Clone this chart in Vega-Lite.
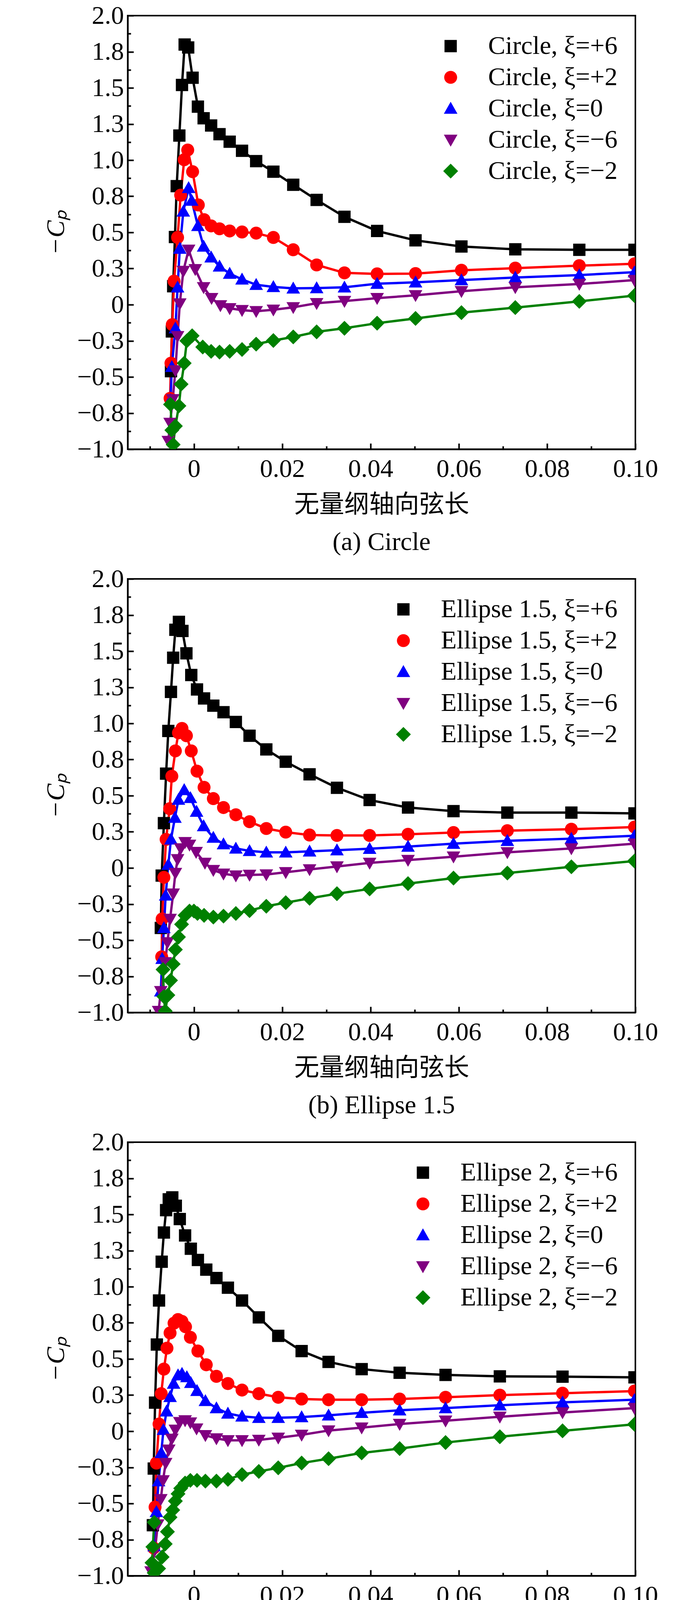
{
  "$schema": "https://vega.github.io/schema/vega-lite/v6.json",
  "background": "white",
  "padding": {"left": 108, "top": 5, "right": 20, "bottom": 10},
  "resolve": {
    "scale": {"color": "independent", "shape": "independent"},
    "legend": {"color": "independent", "shape": "independent"}
  },
  "config": {
    "font": "Liberation Serif",
    "view": {"stroke": "black", "strokeWidth": 4},
    "concat": {"spacing": 24},
    "axis": {
      "grid": false,
      "domainColor": "black",
      "domainWidth": 4,
      "tickColor": "black",
      "tickWidth": 4,
      "labelFont": "Liberation Serif",
      "labelFontSize": 66,
      "labelColor": "black",
      "labelOverlap": false,
      "labelFlush": false,
      "titleColor": "black",
      "titleFontWeight": "normal"
    },
    "legend": {
      "orient": "top-right",
      "offset": 45,
      "padding": 0,
      "labelFont": "Liberation Serif",
      "labelFontSize": 66,
      "labelColor": "black",
      "labelLimit": 2000,
      "symbolSize": 1100,
      "symbolStrokeWidth": 5,
      "rowPadding": 14,
      "labelOffset": 63
    },
    "title": {"font": "Liberation Serif", "fontSize": 66, "fontWeight": "normal", "color": "black", "orient": "bottom", "offset": 32}
  },
  "data": {"values": [
    {"p":"a","s":"+6","x":-0.0052,"y":-0.46},{"p":"a","s":"+6","x":-0.0050,"y":-0.185},{"p":"a","s":"+6","x":-0.0047,"y":0.128},{"p":"a","s":"+6","x":-0.0043,"y":0.468},{"p":"a","s":"+6","x":-0.0039,"y":0.82},{"p":"a","s":"+6","x":-0.0033,"y":1.17},{"p":"a","s":"+6","x":-0.0027,"y":1.52},{"p":"a","s":"+6","x":-0.0021,"y":1.80},{"p":"a","s":"+6","x":-0.0013,"y":1.78},{"p":"a","s":"+6","x":-0.0003,"y":1.57},{"p":"a","s":"+6","x":0.0009,"y":1.37},{"p":"a","s":"+6","x":0.0022,"y":1.29},{"p":"a","s":"+6","x":0.0039,"y":1.24},{"p":"a","s":"+6","x":0.0058,"y":1.18},{"p":"a","s":"+6","x":0.0081,"y":1.128},{"p":"a","s":"+6","x":0.0109,"y":1.065},{"p":"a","s":"+6","x":0.0141,"y":0.993},{"p":"a","s":"+6","x":0.0180,"y":0.92},{"p":"a","s":"+6","x":0.0225,"y":0.83},{"p":"a","s":"+6","x":0.0278,"y":0.725},{"p":"a","s":"+6","x":0.0341,"y":0.608},{"p":"a","s":"+6","x":0.0415,"y":0.51},{"p":"a","s":"+6","x":0.0502,"y":0.445},{"p":"a","s":"+6","x":0.0606,"y":0.403},{"p":"a","s":"+6","x":0.0728,"y":0.383},{"p":"a","s":"+6","x":0.0873,"y":0.38},{"p":"a","s":"+6","x":0.0998,"y":0.38},
    {"p":"a","s":"+2","x":-0.0054,"y":-0.648},{"p":"a","s":"+2","x":-0.0052,"y":-0.405},{"p":"a","s":"+2","x":-0.0049,"y":-0.138},{"p":"a","s":"+2","x":-0.0045,"y":0.163},{"p":"a","s":"+2","x":-0.0037,"y":0.465},{"p":"a","s":"+2","x":-0.0030,"y":0.758},{"p":"a","s":"+2","x":-0.0022,"y":1.003},{"p":"a","s":"+2","x":-0.0014,"y":1.07},{"p":"a","s":"+2","x":-0.0003,"y":0.92},{"p":"a","s":"+2","x":0.0010,"y":0.69},{"p":"a","s":"+2","x":0.0023,"y":0.588},{"p":"a","s":"+2","x":0.0039,"y":0.545},{"p":"a","s":"+2","x":0.0058,"y":0.525},{"p":"a","s":"+2","x":0.0081,"y":0.51},{"p":"a","s":"+2","x":0.0109,"y":0.503},{"p":"a","s":"+2","x":0.0141,"y":0.495},{"p":"a","s":"+2","x":0.0180,"y":0.465},{"p":"a","s":"+2","x":0.0225,"y":0.38},{"p":"a","s":"+2","x":0.0278,"y":0.275},{"p":"a","s":"+2","x":0.0341,"y":0.22},{"p":"a","s":"+2","x":0.0415,"y":0.213},{"p":"a","s":"+2","x":0.0502,"y":0.215},{"p":"a","s":"+2","x":0.0606,"y":0.238},{"p":"a","s":"+2","x":0.0728,"y":0.253},{"p":"a","s":"+2","x":0.0873,"y":0.27},{"p":"a","s":"+2","x":0.0998,"y":0.283},
    {"p":"a","s":"0","x":-0.0053,"y":-0.66},{"p":"a","s":"0","x":-0.0050,"y":-0.43},{"p":"a","s":"0","x":-0.0042,"y":-0.163},{"p":"a","s":"0","x":-0.0037,"y":0.12},{"p":"a","s":"0","x":-0.0032,"y":0.388},{"p":"a","s":"0","x":-0.0024,"y":0.645},{"p":"a","s":"0","x":-0.0012,"y":0.808},{"p":"a","s":"0","x":-0.0005,"y":0.72},{"p":"a","s":"0","x":0.0009,"y":0.545},{"p":"a","s":"0","x":0.0022,"y":0.403},{"p":"a","s":"0","x":0.0039,"y":0.328},{"p":"a","s":"0","x":0.0058,"y":0.265},{"p":"a","s":"0","x":0.0081,"y":0.215},{"p":"a","s":"0","x":0.0109,"y":0.175},{"p":"a","s":"0","x":0.0141,"y":0.138},{"p":"a","s":"0","x":0.0180,"y":0.123},{"p":"a","s":"0","x":0.0225,"y":0.113},{"p":"a","s":"0","x":0.0278,"y":0.115},{"p":"a","s":"0","x":0.0341,"y":0.12},{"p":"a","s":"0","x":0.0415,"y":0.145},{"p":"a","s":"0","x":0.0502,"y":0.155},{"p":"a","s":"0","x":0.0606,"y":0.17},{"p":"a","s":"0","x":0.0728,"y":0.188},{"p":"a","s":"0","x":0.0873,"y":0.205},{"p":"a","s":"0","x":0.0998,"y":0.225},
    {"p":"a","s":"−6","x":-0.0058,"y":-0.943},{"p":"a","s":"−6","x":-0.0054,"y":-0.818},{"p":"a","s":"−6","x":-0.0048,"y":-0.655},{"p":"a","s":"−6","x":-0.0042,"y":-0.455},{"p":"a","s":"−6","x":-0.0037,"y":-0.218},{"p":"a","s":"−6","x":-0.0032,"y":0.008},{"p":"a","s":"−6","x":-0.0024,"y":0.233},{"p":"a","s":"−6","x":-0.0012,"y":0.38},{"p":"a","s":"−6","x":0.0003,"y":0.245},{"p":"a","s":"−6","x":0.0022,"y":0.12},{"p":"a","s":"−6","x":0.0040,"y":0.045},{"p":"a","s":"−6","x":0.0060,"y":-0.005},{"p":"a","s":"−6","x":0.0081,"y":-0.025},{"p":"a","s":"−6","x":0.0109,"y":-0.038},{"p":"a","s":"−6","x":0.0141,"y":-0.045},{"p":"a","s":"−6","x":0.0180,"y":-0.035},{"p":"a","s":"−6","x":0.0225,"y":-0.018},{"p":"a","s":"−6","x":0.0278,"y":0.01},{"p":"a","s":"−6","x":0.0341,"y":0.025},{"p":"a","s":"−6","x":0.0415,"y":0.045},{"p":"a","s":"−6","x":0.0502,"y":0.065},{"p":"a","s":"−6","x":0.0606,"y":0.093},{"p":"a","s":"−6","x":0.0728,"y":0.12},{"p":"a","s":"−6","x":0.0873,"y":0.143},{"p":"a","s":"−6","x":0.0998,"y":0.17},
    {"p":"a","s":"−2","x":-0.0053,"y":-0.69},{"p":"a","s":"−2","x":-0.0050,"y":-0.868},{"p":"a","s":"−2","x":-0.0047,"y":-0.968},{"p":"a","s":"−2","x":-0.0042,"y":-0.84},{"p":"a","s":"−2","x":-0.0034,"y":-0.70},{"p":"a","s":"−2","x":-0.0029,"y":-0.55},{"p":"a","s":"−2","x":-0.0022,"y":-0.405},{"p":"a","s":"−2","x":-0.0016,"y":-0.25},{"p":"a","s":"−2","x":-0.0004,"y":-0.215},{"p":"a","s":"−2","x":0.0020,"y":-0.293},{"p":"a","s":"−2","x":0.0039,"y":-0.323},{"p":"a","s":"−2","x":0.0058,"y":-0.328},{"p":"a","s":"−2","x":0.0081,"y":-0.323},{"p":"a","s":"−2","x":0.0109,"y":-0.31},{"p":"a","s":"−2","x":0.0141,"y":-0.273},{"p":"a","s":"−2","x":0.0180,"y":-0.248},{"p":"a","s":"−2","x":0.0225,"y":-0.223},{"p":"a","s":"−2","x":0.0278,"y":-0.188},{"p":"a","s":"−2","x":0.0341,"y":-0.163},{"p":"a","s":"−2","x":0.0415,"y":-0.128},{"p":"a","s":"−2","x":0.0502,"y":-0.095},{"p":"a","s":"−2","x":0.0606,"y":-0.055},{"p":"a","s":"−2","x":0.0728,"y":-0.02},{"p":"a","s":"−2","x":0.0873,"y":0.023},{"p":"a","s":"−2","x":0.0998,"y":0.063},

    {"p":"b","s":"+6","x":-0.0075,"y":-0.415},{"p":"b","s":"+6","x":-0.0073,"y":-0.053},{"p":"b","s":"+6","x":-0.0068,"y":0.31},{"p":"b","s":"+6","x":-0.0063,"y":0.653},{"p":"b","s":"+6","x":-0.0058,"y":0.948},{"p":"b","s":"+6","x":-0.0052,"y":1.218},{"p":"b","s":"+6","x":-0.0047,"y":1.455},{"p":"b","s":"+6","x":-0.0042,"y":1.648},{"p":"b","s":"+6","x":-0.0034,"y":1.703},{"p":"b","s":"+6","x":-0.0026,"y":1.64},{"p":"b","s":"+6","x":-0.0017,"y":1.485},{"p":"b","s":"+6","x":-0.0006,"y":1.335},{"p":"b","s":"+6","x":0.0007,"y":1.235},{"p":"b","s":"+6","x":0.0023,"y":1.173},{"p":"b","s":"+6","x":0.0044,"y":1.123},{"p":"b","s":"+6","x":0.0067,"y":1.078},{"p":"b","s":"+6","x":0.0095,"y":1.01},{"p":"b","s":"+6","x":0.0126,"y":0.915},{"p":"b","s":"+6","x":0.0164,"y":0.82},{"p":"b","s":"+6","x":0.0208,"y":0.735},{"p":"b","s":"+6","x":0.0262,"y":0.648},{"p":"b","s":"+6","x":0.0324,"y":0.555},{"p":"b","s":"+6","x":0.0398,"y":0.47},{"p":"b","s":"+6","x":0.0485,"y":0.418},{"p":"b","s":"+6","x":0.0588,"y":0.393},{"p":"b","s":"+6","x":0.0710,"y":0.383},{"p":"b","s":"+6","x":0.0855,"y":0.383},{"p":"b","s":"+6","x":0.0998,"y":0.378},
    {"p":"b","s":"+2","x":-0.0073,"y":-0.615},{"p":"b","s":"+2","x":-0.0072,"y":-0.353},{"p":"b","s":"+2","x":-0.0068,"y":-0.065},{"p":"b","s":"+2","x":-0.0063,"y":0.198},{"p":"b","s":"+2","x":-0.0055,"y":0.41},{"p":"b","s":"+2","x":-0.0050,"y":0.635},{"p":"b","s":"+2","x":-0.0042,"y":0.81},{"p":"b","s":"+2","x":-0.0035,"y":0.935},{"p":"b","s":"+2","x":-0.0027,"y":0.965},{"p":"b","s":"+2","x":-0.0017,"y":0.915},{"p":"b","s":"+2","x":-0.0006,"y":0.81},{"p":"b","s":"+2","x":0.0007,"y":0.67},{"p":"b","s":"+2","x":0.0023,"y":0.558},{"p":"b","s":"+2","x":0.0044,"y":0.48},{"p":"b","s":"+2","x":0.0067,"y":0.418},{"p":"b","s":"+2","x":0.0095,"y":0.368},{"p":"b","s":"+2","x":0.0126,"y":0.32},{"p":"b","s":"+2","x":0.0164,"y":0.273},{"p":"b","s":"+2","x":0.0208,"y":0.248},{"p":"b","s":"+2","x":0.0262,"y":0.228},{"p":"b","s":"+2","x":0.0324,"y":0.225},{"p":"b","s":"+2","x":0.0398,"y":0.225},{"p":"b","s":"+2","x":0.0485,"y":0.233},{"p":"b","s":"+2","x":0.0588,"y":0.245},{"p":"b","s":"+2","x":0.0710,"y":0.258},{"p":"b","s":"+2","x":0.0855,"y":0.268},{"p":"b","s":"+2","x":0.0998,"y":0.283},
    {"p":"b","s":"0","x":-0.0075,"y":-0.853},{"p":"b","s":"0","x":-0.0072,"y":-0.628},{"p":"b","s":"0","x":-0.0068,"y":-0.415},{"p":"b","s":"0","x":-0.0064,"y":-0.19},{"p":"b","s":"0","x":-0.0058,"y":0.023},{"p":"b","s":"0","x":-0.0052,"y":0.198},{"p":"b","s":"0","x":-0.0043,"y":0.348},{"p":"b","s":"0","x":-0.0035,"y":0.473},{"p":"b","s":"0","x":-0.0022,"y":0.54},{"p":"b","s":"0","x":-0.0008,"y":0.485},{"p":"b","s":"0","x":0.0006,"y":0.39},{"p":"b","s":"0","x":0.0022,"y":0.29},{"p":"b","s":"0","x":0.0044,"y":0.21},{"p":"b","s":"0","x":0.0067,"y":0.165},{"p":"b","s":"0","x":0.0095,"y":0.135},{"p":"b","s":"0","x":0.0126,"y":0.118},{"p":"b","s":"0","x":0.0164,"y":0.108},{"p":"b","s":"0","x":0.0208,"y":0.108},{"p":"b","s":"0","x":0.0262,"y":0.115},{"p":"b","s":"0","x":0.0324,"y":0.123},{"p":"b","s":"0","x":0.0398,"y":0.133},{"p":"b","s":"0","x":0.0485,"y":0.148},{"p":"b","s":"0","x":0.0588,"y":0.168},{"p":"b","s":"0","x":0.0710,"y":0.188},{"p":"b","s":"0","x":0.0855,"y":0.203},{"p":"b","s":"0","x":0.0998,"y":0.223},
    {"p":"b","s":"−6","x":-0.0080,"y":-0.99},{"p":"b","s":"−6","x":-0.0075,"y":-0.853},{"p":"b","s":"−6","x":-0.0065,"y":-0.653},{"p":"b","s":"−6","x":-0.0060,"y":-0.515},{"p":"b","s":"−6","x":-0.0054,"y":-0.353},{"p":"b","s":"−6","x":-0.0047,"y":-0.178},{"p":"b","s":"−6","x":-0.0042,"y":-0.035},{"p":"b","s":"−6","x":-0.0037,"y":0.06},{"p":"b","s":"−6","x":-0.0030,"y":0.135},{"p":"b","s":"−6","x":-0.0020,"y":0.178},{"p":"b","s":"−6","x":-0.0010,"y":0.16},{"p":"b","s":"−6","x":0.0005,"y":0.11},{"p":"b","s":"−6","x":0.0025,"y":0.035},{"p":"b","s":"−6","x":0.0044,"y":-0.015},{"p":"b","s":"−6","x":0.0067,"y":-0.04},{"p":"b","s":"−6","x":0.0095,"y":-0.053},{"p":"b","s":"−6","x":0.0126,"y":-0.048},{"p":"b","s":"−6","x":0.0164,"y":-0.045},{"p":"b","s":"−6","x":0.0208,"y":-0.03},{"p":"b","s":"−6","x":0.0262,"y":-0.01},{"p":"b","s":"−6","x":0.0324,"y":0.01},{"p":"b","s":"−6","x":0.0398,"y":0.035},{"p":"b","s":"−6","x":0.0485,"y":0.055},{"p":"b","s":"−6","x":0.0588,"y":0.078},{"p":"b","s":"−6","x":0.0710,"y":0.108},{"p":"b","s":"−6","x":0.0855,"y":0.135},{"p":"b","s":"−6","x":0.0998,"y":0.168},
    {"p":"b","s":"−2","x":-0.0070,"y":-0.703},{"p":"b","s":"−2","x":-0.0068,"y":-0.89},{"p":"b","s":"−2","x":-0.0065,"y":-0.99},{"p":"b","s":"−2","x":-0.0059,"y":-0.88},{"p":"b","s":"−2","x":-0.0053,"y":-0.778},{"p":"b","s":"−2","x":-0.0047,"y":-0.665},{"p":"b","s":"−2","x":-0.0042,"y":-0.565},{"p":"b","s":"−2","x":-0.0035,"y":-0.478},{"p":"b","s":"−2","x":-0.0028,"y":-0.39},{"p":"b","s":"−2","x":-0.0020,"y":-0.328},{"p":"b","s":"−2","x":-0.0010,"y":-0.298},{"p":"b","s":"−2","x":0.0000,"y":-0.298},{"p":"b","s":"−2","x":0.0008,"y":-0.315},{"p":"b","s":"−2","x":0.0023,"y":-0.328},{"p":"b","s":"−2","x":0.0044,"y":-0.34},{"p":"b","s":"−2","x":0.0067,"y":-0.333},{"p":"b","s":"−2","x":0.0095,"y":-0.315},{"p":"b","s":"−2","x":0.0126,"y":-0.295},{"p":"b","s":"−2","x":0.0164,"y":-0.265},{"p":"b","s":"−2","x":0.0208,"y":-0.24},{"p":"b","s":"−2","x":0.0262,"y":-0.21},{"p":"b","s":"−2","x":0.0324,"y":-0.178},{"p":"b","s":"−2","x":0.0398,"y":-0.145},{"p":"b","s":"−2","x":0.0485,"y":-0.108},{"p":"b","s":"−2","x":0.0588,"y":-0.07},{"p":"b","s":"−2","x":0.0710,"y":-0.035},{"p":"b","s":"−2","x":0.0855,"y":0.008},{"p":"b","s":"−2","x":0.0998,"y":0.048},

    {"p":"c","s":"+6","x":-0.0093,"y":-0.65},{"p":"c","s":"+6","x":-0.0091,"y":-0.258},{"p":"c","s":"+6","x":-0.0088,"y":0.198},{"p":"c","s":"+6","x":-0.0084,"y":0.60},{"p":"c","s":"+6","x":-0.0079,"y":0.905},{"p":"c","s":"+6","x":-0.0073,"y":1.173},{"p":"c","s":"+6","x":-0.0068,"y":1.375},{"p":"c","s":"+6","x":-0.0063,"y":1.53},{"p":"c","s":"+6","x":-0.0057,"y":1.605},{"p":"c","s":"+6","x":-0.0049,"y":1.618},{"p":"c","s":"+6","x":-0.0041,"y":1.56},{"p":"c","s":"+6","x":-0.0032,"y":1.468},{"p":"c","s":"+6","x":-0.0020,"y":1.355},{"p":"c","s":"+6","x":-0.0007,"y":1.263},{"p":"c","s":"+6","x":0.0009,"y":1.185},{"p":"c","s":"+6","x":0.0028,"y":1.118},{"p":"c","s":"+6","x":0.0051,"y":1.06},{"p":"c","s":"+6","x":0.0077,"y":0.993},{"p":"c","s":"+6","x":0.0109,"y":0.905},{"p":"c","s":"+6","x":0.0147,"y":0.788},{"p":"c","s":"+6","x":0.0191,"y":0.66},{"p":"c","s":"+6","x":0.0244,"y":0.555},{"p":"c","s":"+6","x":0.0305,"y":0.48},{"p":"c","s":"+6","x":0.0380,"y":0.43},{"p":"c","s":"+6","x":0.0466,"y":0.405},{"p":"c","s":"+6","x":0.0570,"y":0.39},{"p":"c","s":"+6","x":0.0693,"y":0.38},{"p":"c","s":"+6","x":0.0835,"y":0.378},{"p":"c","s":"+6","x":0.0998,"y":0.373},
    {"p":"c","s":"+2","x":-0.0091,"y":-0.808},{"p":"c","s":"+2","x":-0.0088,"y":-0.525},{"p":"c","s":"+2","x":-0.0085,"y":-0.22},{"p":"c","s":"+2","x":-0.0079,"y":0.05},{"p":"c","s":"+2","x":-0.0074,"y":0.26},{"p":"c","s":"+2","x":-0.0068,"y":0.43},{"p":"c","s":"+2","x":-0.0061,"y":0.575},{"p":"c","s":"+2","x":-0.0054,"y":0.68},{"p":"c","s":"+2","x":-0.0045,"y":0.748},{"p":"c","s":"+2","x":-0.0036,"y":0.773},{"p":"c","s":"+2","x":-0.0027,"y":0.76},{"p":"c","s":"+2","x":-0.0019,"y":0.723},{"p":"c","s":"+2","x":-0.0008,"y":0.65},{"p":"c","s":"+2","x":0.0009,"y":0.555},{"p":"c","s":"+2","x":0.0028,"y":0.46},{"p":"c","s":"+2","x":0.0051,"y":0.38},{"p":"c","s":"+2","x":0.0077,"y":0.33},{"p":"c","s":"+2","x":0.0109,"y":0.285},{"p":"c","s":"+2","x":0.0147,"y":0.26},{"p":"c","s":"+2","x":0.0191,"y":0.235},{"p":"c","s":"+2","x":0.0244,"y":0.223},{"p":"c","s":"+2","x":0.0305,"y":0.218},{"p":"c","s":"+2","x":0.0380,"y":0.218},{"p":"c","s":"+2","x":0.0466,"y":0.223},{"p":"c","s":"+2","x":0.0570,"y":0.235},{"p":"c","s":"+2","x":0.0693,"y":0.25},{"p":"c","s":"+2","x":0.0835,"y":0.263},{"p":"c","s":"+2","x":0.0998,"y":0.278},
    {"p":"c","s":"0","x":-0.0090,"y":-0.795},{"p":"c","s":"0","x":-0.0085,"y":-0.558},{"p":"c","s":"0","x":-0.0080,"y":-0.345},{"p":"c","s":"0","x":-0.0074,"y":-0.15},{"p":"c","s":"0","x":-0.0069,"y":0.01},{"p":"c","s":"0","x":-0.0062,"y":0.138},{"p":"c","s":"0","x":-0.0054,"y":0.238},{"p":"c","s":"0","x":-0.0046,"y":0.33},{"p":"c","s":"0","x":-0.0036,"y":0.388},{"p":"c","s":"0","x":-0.0027,"y":0.398},{"p":"c","s":"0","x":-0.0016,"y":0.375},{"p":"c","s":"0","x":-0.0007,"y":0.335},{"p":"c","s":"0","x":0.0007,"y":0.28},{"p":"c","s":"0","x":0.0026,"y":0.21},{"p":"c","s":"0","x":0.0051,"y":0.16},{"p":"c","s":"0","x":0.0077,"y":0.123},{"p":"c","s":"0","x":0.0109,"y":0.103},{"p":"c","s":"0","x":0.0147,"y":0.093},{"p":"c","s":"0","x":0.0191,"y":0.093},{"p":"c","s":"0","x":0.0244,"y":0.098},{"p":"c","s":"0","x":0.0305,"y":0.11},{"p":"c","s":"0","x":0.0380,"y":0.128},{"p":"c","s":"0","x":0.0466,"y":0.145},{"p":"c","s":"0","x":0.0570,"y":0.16},{"p":"c","s":"0","x":0.0693,"y":0.18},{"p":"c","s":"0","x":0.0835,"y":0.20},{"p":"c","s":"0","x":0.0998,"y":0.218},
    {"p":"c","s":"−6","x":-0.0097,"y":-0.97},{"p":"c","s":"−6","x":-0.0088,"y":-0.82},{"p":"c","s":"−6","x":-0.0082,"y":-0.645},{"p":"c","s":"−6","x":-0.0075,"y":-0.47},{"p":"c","s":"−6","x":-0.0070,"y":-0.34},{"p":"c","s":"−6","x":-0.0064,"y":-0.22},{"p":"c","s":"−6","x":-0.0057,"y":-0.128},{"p":"c","s":"−6","x":-0.0050,"y":-0.053},{"p":"c","s":"−6","x":-0.0042,"y":0.01},{"p":"c","s":"−6","x":-0.0032,"y":0.063},{"p":"c","s":"−6","x":-0.0020,"y":0.075},{"p":"c","s":"−6","x":-0.0008,"y":0.06},{"p":"c","s":"−6","x":0.0006,"y":0.018},{"p":"c","s":"−6","x":0.0026,"y":-0.028},{"p":"c","s":"−6","x":0.0051,"y":-0.05},{"p":"c","s":"−6","x":0.0077,"y":-0.063},{"p":"c","s":"−6","x":0.0109,"y":-0.063},{"p":"c","s":"−6","x":0.0147,"y":-0.06},{"p":"c","s":"−6","x":0.0191,"y":-0.045},{"p":"c","s":"−6","x":0.0244,"y":-0.025},{"p":"c","s":"−6","x":0.0305,"y":0.005},{"p":"c","s":"−6","x":0.0380,"y":0.025},{"p":"c","s":"−6","x":0.0466,"y":0.05},{"p":"c","s":"−6","x":0.0570,"y":0.073},{"p":"c","s":"−6","x":0.0693,"y":0.10},{"p":"c","s":"−6","x":0.0835,"y":0.13},{"p":"c","s":"−6","x":0.0998,"y":0.16},
    {"p":"c","s":"−2","x":-0.0090,"y":-0.63},{"p":"c","s":"−2","x":-0.0093,"y":-0.80},{"p":"c","s":"−2","x":-0.0095,"y":-0.91},{"p":"c","s":"−2","x":-0.0090,"y":-0.98},{"p":"c","s":"−2","x":-0.0080,"y":-0.95},{"p":"c","s":"−2","x":-0.0072,"y":-0.87},{"p":"c","s":"−2","x":-0.0065,"y":-0.78},{"p":"c","s":"−2","x":-0.0060,"y":-0.695},{"p":"c","s":"−2","x":-0.0054,"y":-0.595},{"p":"c","s":"−2","x":-0.0048,"y":-0.545},{"p":"c","s":"−2","x":-0.0042,"y":-0.483},{"p":"c","s":"−2","x":-0.0036,"y":-0.433},{"p":"c","s":"−2","x":-0.0030,"y":-0.395},{"p":"c","s":"−2","x":-0.0020,"y":-0.358},{"p":"c","s":"−2","x":-0.0008,"y":-0.34},{"p":"c","s":"−2","x":0.0007,"y":-0.34},{"p":"c","s":"−2","x":0.0026,"y":-0.345},{"p":"c","s":"−2","x":0.0051,"y":-0.345},{"p":"c","s":"−2","x":0.0077,"y":-0.333},{"p":"c","s":"−2","x":0.0109,"y":-0.30},{"p":"c","s":"−2","x":0.0147,"y":-0.278},{"p":"c","s":"−2","x":0.0191,"y":-0.253},{"p":"c","s":"−2","x":0.0244,"y":-0.22},{"p":"c","s":"−2","x":0.0305,"y":-0.19},{"p":"c","s":"−2","x":0.0380,"y":-0.15},{"p":"c","s":"−2","x":0.0466,"y":-0.12},{"p":"c","s":"−2","x":0.0570,"y":-0.078},{"p":"c","s":"−2","x":0.0693,"y":-0.038},{"p":"c","s":"−2","x":0.0835,"y":0.003},{"p":"c","s":"−2","x":0.0998,"y":0.048},

    {"p":"d","s":"+6","x":-0.0124,"y":-0.71},{"p":"d","s":"+6","x":-0.0121,"y":0.018},{"p":"d","s":"+6","x":-0.0115,"y":0.588},{"p":"d","s":"+6","x":-0.0110,"y":0.983},{"p":"d","s":"+6","x":-0.0105,"y":1.245},{"p":"d","s":"+6","x":-0.0100,"y":1.413},{"p":"d","s":"+6","x":-0.0095,"y":1.488},{"p":"d","s":"+6","x":-0.0088,"y":1.493},{"p":"d","s":"+6","x":-0.0082,"y":1.475},{"p":"d","s":"+6","x":-0.0075,"y":1.433},{"p":"d","s":"+6","x":-0.0068,"y":1.368},{"p":"d","s":"+6","x":-0.0059,"y":1.273},{"p":"d","s":"+6","x":-0.0048,"y":1.17},{"p":"d","s":"+6","x":-0.0035,"y":1.068},{"p":"d","s":"+6","x":-0.0019,"y":0.988},{"p":"d","s":"+6","x":0.0000,"y":0.925},{"p":"d","s":"+6","x":0.0022,"y":0.88},{"p":"d","s":"+6","x":0.0048,"y":0.858},{"p":"d","s":"+6","x":0.0079,"y":0.843},{"p":"d","s":"+6","x":0.0116,"y":0.825},{"p":"d","s":"+6","x":0.0160,"y":0.755},{"p":"d","s":"+6","x":0.0213,"y":0.63},{"p":"d","s":"+6","x":0.0275,"y":0.513},{"p":"d","s":"+6","x":0.0347,"y":0.438},{"p":"d","s":"+6","x":0.0434,"y":0.40},{"p":"d","s":"+6","x":0.0537,"y":0.38},{"p":"d","s":"+6","x":0.0658,"y":0.375},{"p":"d","s":"+6","x":0.0803,"y":0.37},{"p":"d","s":"+6","x":0.0998,"y":0.368},
    {"p":"d","s":"+2","x":-0.0122,"y":-0.738},{"p":"d","s":"+2","x":-0.0120,"y":-0.363},{"p":"d","s":"+2","x":-0.0118,"y":-0.038},{"p":"d","s":"+2","x":-0.0112,"y":0.183},{"p":"d","s":"+2","x":-0.0105,"y":0.325},{"p":"d","s":"+2","x":-0.0098,"y":0.438},{"p":"d","s":"+2","x":-0.0090,"y":0.508},{"p":"d","s":"+2","x":-0.0082,"y":0.555},{"p":"d","s":"+2","x":-0.0073,"y":0.575},{"p":"d","s":"+2","x":-0.0064,"y":0.588},{"p":"d","s":"+2","x":-0.0055,"y":0.583},{"p":"d","s":"+2","x":-0.0044,"y":0.568},{"p":"d","s":"+2","x":-0.0033,"y":0.543},{"p":"d","s":"+2","x":-0.0019,"y":0.513},{"p":"d","s":"+2","x":0.0000,"y":0.45},{"p":"d","s":"+2","x":0.0022,"y":0.383},{"p":"d","s":"+2","x":0.0048,"y":0.318},{"p":"d","s":"+2","x":0.0079,"y":0.27},{"p":"d","s":"+2","x":0.0116,"y":0.245},{"p":"d","s":"+2","x":0.0160,"y":0.233},{"p":"d","s":"+2","x":0.0213,"y":0.225},{"p":"d","s":"+2","x":0.0275,"y":0.223},{"p":"d","s":"+2","x":0.0347,"y":0.223},{"p":"d","s":"+2","x":0.0434,"y":0.228},{"p":"d","s":"+2","x":0.0537,"y":0.238},{"p":"d","s":"+2","x":0.0658,"y":0.248},{"p":"d","s":"+2","x":0.0803,"y":0.263},{"p":"d","s":"+2","x":0.0998,"y":0.278},
    {"p":"d","s":"0","x":-0.0120,"y":-0.738},{"p":"d","s":"0","x":-0.0115,"y":-0.458},{"p":"d","s":"0","x":-0.0110,"y":-0.25},{"p":"d","s":"0","x":-0.0103,"y":-0.118},{"p":"d","s":"0","x":-0.0097,"y":-0.013},{"p":"d","s":"0","x":-0.0090,"y":0.075},{"p":"d","s":"0","x":-0.0083,"y":0.143},{"p":"d","s":"0","x":-0.0075,"y":0.193},{"p":"d","s":"0","x":-0.0067,"y":0.23},{"p":"d","s":"0","x":-0.0058,"y":0.255},{"p":"d","s":"0","x":-0.0047,"y":0.268},{"p":"d","s":"0","x":-0.0035,"y":0.263},{"p":"d","s":"0","x":-0.0020,"y":0.248},{"p":"d","s":"0","x":0.0000,"y":0.218},{"p":"d","s":"0","x":0.0022,"y":0.175},{"p":"d","s":"0","x":0.0048,"y":0.133},{"p":"d","s":"0","x":0.0079,"y":0.108},{"p":"d","s":"0","x":0.0116,"y":0.095},{"p":"d","s":"0","x":0.0160,"y":0.09},{"p":"d","s":"0","x":0.0213,"y":0.095},{"p":"d","s":"0","x":0.0275,"y":0.105},{"p":"d","s":"0","x":0.0347,"y":0.125},{"p":"d","s":"0","x":0.0434,"y":0.148},{"p":"d","s":"0","x":0.0537,"y":0.16},{"p":"d","s":"0","x":0.0658,"y":0.178},{"p":"d","s":"0","x":0.0803,"y":0.198},{"p":"d","s":"0","x":0.0998,"y":0.22},
    {"p":"d","s":"−6","x":-0.0127,"y":-0.963},{"p":"d","s":"−6","x":-0.0118,"y":-0.738},{"p":"d","s":"−6","x":-0.0110,"y":-0.575},{"p":"d","s":"−6","x":-0.0105,"y":-0.463},{"p":"d","s":"−6","x":-0.0100,"y":-0.363},{"p":"d","s":"−6","x":-0.0093,"y":-0.258},{"p":"d","s":"−6","x":-0.0086,"y":-0.175},{"p":"d","s":"−6","x":-0.0079,"y":-0.113},{"p":"d","s":"−6","x":-0.0070,"y":-0.063},{"p":"d","s":"−6","x":-0.0060,"y":-0.028},{"p":"d","s":"−6","x":-0.0048,"y":-0.008},{"p":"d","s":"−6","x":-0.0035,"y":-0.003},{"p":"d","s":"−6","x":-0.0020,"y":-0.008},{"p":"d","s":"−6","x":0.0000,"y":-0.028},{"p":"d","s":"−6","x":0.0022,"y":-0.053},{"p":"d","s":"−6","x":0.0048,"y":-0.068},{"p":"d","s":"−6","x":0.0079,"y":-0.075},{"p":"d","s":"−6","x":0.0116,"y":-0.07},{"p":"d","s":"−6","x":0.0160,"y":-0.058},{"p":"d","s":"−6","x":0.0213,"y":-0.038},{"p":"d","s":"−6","x":0.0275,"y":-0.013},{"p":"d","s":"−6","x":0.0347,"y":0.013},{"p":"d","s":"−6","x":0.0434,"y":0.038},{"p":"d","s":"−6","x":0.0537,"y":0.063},{"p":"d","s":"−6","x":0.0658,"y":0.09},{"p":"d","s":"−6","x":0.0803,"y":0.12},{"p":"d","s":"−6","x":0.0998,"y":0.158},
    {"p":"d","s":"−2","x":-0.0120,"y":-0.55},{"p":"d","s":"−2","x":-0.0122,"y":-0.90},{"p":"d","s":"−2","x":-0.0110,"y":-0.963},{"p":"d","s":"−2","x":-0.0100,"y":-0.863},{"p":"d","s":"−2","x":-0.0096,"y":-0.768},{"p":"d","s":"−2","x":-0.0090,"y":-0.663},{"p":"d","s":"−2","x":-0.0083,"y":-0.575},{"p":"d","s":"−2","x":-0.0075,"y":-0.508},{"p":"d","s":"−2","x":-0.0065,"y":-0.45},{"p":"d","s":"−2","x":-0.0053,"y":-0.40},{"p":"d","s":"−2","x":-0.0040,"y":-0.368},{"p":"d","s":"−2","x":-0.0022,"y":-0.345},{"p":"d","s":"−2","x":0.0000,"y":-0.338},{"p":"d","s":"−2","x":0.0022,"y":-0.333},{"p":"d","s":"−2","x":0.0048,"y":-0.325},{"p":"d","s":"−2","x":0.0079,"y":-0.308},{"p":"d","s":"−2","x":0.0116,"y":-0.28},{"p":"d","s":"−2","x":0.0160,"y":-0.25},{"p":"d","s":"−2","x":0.0213,"y":-0.218},{"p":"d","s":"−2","x":0.0275,"y":-0.183},{"p":"d","s":"−2","x":0.0347,"y":-0.15},{"p":"d","s":"−2","x":0.0434,"y":-0.113},{"p":"d","s":"−2","x":0.0537,"y":-0.075},{"p":"d","s":"−2","x":0.0658,"y":-0.038},{"p":"d","s":"−2","x":0.0803,"y":0.008},{"p":"d","s":"−2","x":0.0998,"y":0.05},

    {"p":"e","s":"+6","x":-0.0092,"y":-0.475},{"p":"e","s":"+6","x":-0.0088,"y":0.408},{"p":"e","s":"+6","x":-0.0084,"y":1.075},{"p":"e","s":"+6","x":-0.0080,"y":1.445},{"p":"e","s":"+6","x":-0.0073,"y":1.508},{"p":"e","s":"+6","x":-0.0066,"y":1.445},{"p":"e","s":"+6","x":-0.0060,"y":1.35},{"p":"e","s":"+6","x":-0.0052,"y":1.238},{"p":"e","s":"+6","x":-0.0043,"y":1.168},{"p":"e","s":"+6","x":-0.0034,"y":1.118},{"p":"e","s":"+6","x":-0.0022,"y":1.068},{"p":"e","s":"+6","x":-0.0010,"y":1.018},{"p":"e","s":"+6","x":0.0001,"y":0.97},{"p":"e","s":"+6","x":0.0016,"y":0.918},{"p":"e","s":"+6","x":0.0035,"y":0.868},{"p":"e","s":"+6","x":0.0057,"y":0.818},{"p":"e","s":"+6","x":0.0083,"y":0.763},{"p":"e","s":"+6","x":0.0116,"y":0.718},{"p":"e","s":"+6","x":0.0153,"y":0.675},{"p":"e","s":"+6","x":0.0197,"y":0.63},{"p":"e","s":"+6","x":0.0250,"y":0.588},{"p":"e","s":"+6","x":0.0312,"y":0.543},{"p":"e","s":"+6","x":0.0386,"y":0.488},{"p":"e","s":"+6","x":0.0472,"y":0.443},{"p":"e","s":"+6","x":0.0575,"y":0.408},{"p":"e","s":"+6","x":0.0697,"y":0.393},{"p":"e","s":"+6","x":0.0843,"y":0.388},{"p":"e","s":"+6","x":0.0998,"y":0.383},
    {"p":"e","s":"+2","x":-0.0091,"y":-0.613},{"p":"e","s":"+2","x":-0.0088,"y":-0.15},{"p":"e","s":"+2","x":-0.0081,"y":0.118},{"p":"e","s":"+2","x":-0.0074,"y":0.233},{"p":"e","s":"+2","x":-0.0067,"y":0.275},{"p":"e","s":"+2","x":-0.0059,"y":0.308},{"p":"e","s":"+2","x":-0.0050,"y":0.33},{"p":"e","s":"+2","x":-0.0040,"y":0.345},{"p":"e","s":"+2","x":-0.0028,"y":0.35},{"p":"e","s":"+2","x":-0.0015,"y":0.35},{"p":"e","s":"+2","x":0.0000,"y":0.345},{"p":"e","s":"+2","x":0.0015,"y":0.345},{"p":"e","s":"+2","x":0.0035,"y":0.343},{"p":"e","s":"+2","x":0.0057,"y":0.338},{"p":"e","s":"+2","x":0.0083,"y":0.333},{"p":"e","s":"+2","x":0.0116,"y":0.325},{"p":"e","s":"+2","x":0.0153,"y":0.313},{"p":"e","s":"+2","x":0.0197,"y":0.293},{"p":"e","s":"+2","x":0.0250,"y":0.27},{"p":"e","s":"+2","x":0.0312,"y":0.248},{"p":"e","s":"+2","x":0.0386,"y":0.238},{"p":"e","s":"+2","x":0.0472,"y":0.238},{"p":"e","s":"+2","x":0.0575,"y":0.243},{"p":"e","s":"+2","x":0.0697,"y":0.255},{"p":"e","s":"+2","x":0.0843,"y":0.268},{"p":"e","s":"+2","x":0.0998,"y":0.283},
    {"p":"e","s":"0","x":-0.0088,"y":-0.638},{"p":"e","s":"0","x":-0.0082,"y":-0.35},{"p":"e","s":"0","x":-0.0076,"y":-0.213},{"p":"e","s":"0","x":-0.0070,"y":-0.15},{"p":"e","s":"0","x":-0.0063,"y":-0.088},{"p":"e","s":"0","x":-0.0055,"y":-0.025},{"p":"e","s":"0","x":-0.0047,"y":0.02},{"p":"e","s":"0","x":-0.0037,"y":0.063},{"p":"e","s":"0","x":-0.0025,"y":0.093},{"p":"e","s":"0","x":-0.0012,"y":0.108},{"p":"e","s":"0","x":0.0001,"y":0.118},{"p":"e","s":"0","x":0.0016,"y":0.128},{"p":"e","s":"0","x":0.0035,"y":0.133},{"p":"e","s":"0","x":0.0057,"y":0.143},{"p":"e","s":"0","x":0.0083,"y":0.15},{"p":"e","s":"0","x":0.0116,"y":0.15},{"p":"e","s":"0","x":0.0153,"y":0.15},{"p":"e","s":"0","x":0.0197,"y":0.145},{"p":"e","s":"0","x":0.0250,"y":0.138},{"p":"e","s":"0","x":0.0312,"y":0.13},{"p":"e","s":"0","x":0.0386,"y":0.13},{"p":"e","s":"0","x":0.0472,"y":0.145},{"p":"e","s":"0","x":0.0575,"y":0.163},{"p":"e","s":"0","x":0.0697,"y":0.183},{"p":"e","s":"0","x":0.0843,"y":0.20},{"p":"e","s":"0","x":0.0998,"y":0.218},
    {"p":"e","s":"−6","x":-0.0100,"y":-0.988},{"p":"e","s":"−6","x":-0.0088,"y":-0.888},{"p":"e","s":"−6","x":-0.0082,"y":-0.70},{"p":"e","s":"−6","x":-0.0076,"y":-0.538},{"p":"e","s":"−6","x":-0.0071,"y":-0.425},{"p":"e","s":"−6","x":-0.0065,"y":-0.338},{"p":"e","s":"−6","x":-0.0058,"y":-0.275},{"p":"e","s":"−6","x":-0.0050,"y":-0.225},{"p":"e","s":"−6","x":-0.0040,"y":-0.183},{"p":"e","s":"−6","x":-0.0028,"y":-0.15},{"p":"e","s":"−6","x":-0.0015,"y":-0.113},{"p":"e","s":"−6","x":0.0001,"y":-0.088},{"p":"e","s":"−6","x":0.0016,"y":-0.063},{"p":"e","s":"−6","x":0.0035,"y":-0.045},{"p":"e","s":"−6","x":0.0057,"y":-0.038},{"p":"e","s":"−6","x":0.0083,"y":-0.033},{"p":"e","s":"−6","x":0.0116,"y":-0.02},{"p":"e","s":"−6","x":0.0153,"y":-0.008},{"p":"e","s":"−6","x":0.0197,"y":0.0},{"p":"e","s":"−6","x":0.0250,"y":0.008},{"p":"e","s":"−6","x":0.0312,"y":0.018},{"p":"e","s":"−6","x":0.0386,"y":0.038},{"p":"e","s":"−6","x":0.0472,"y":0.058},{"p":"e","s":"−6","x":0.0575,"y":0.08},{"p":"e","s":"−6","x":0.0697,"y":0.108},{"p":"e","s":"−6","x":0.0843,"y":0.133},{"p":"e","s":"−6","x":0.0998,"y":0.168},
    {"p":"e","s":"−2","x":-0.0095,"y":-0.45},{"p":"e","s":"−2","x":-0.0097,"y":-0.913},{"p":"e","s":"−2","x":-0.0085,"y":-0.975},{"p":"e","s":"−2","x":-0.0078,"y":-0.933},{"p":"e","s":"−2","x":-0.0072,"y":-0.858},{"p":"e","s":"−2","x":-0.0066,"y":-0.788},{"p":"e","s":"−2","x":-0.0060,"y":-0.725},{"p":"e","s":"−2","x":-0.0054,"y":-0.668},{"p":"e","s":"−2","x":-0.0047,"y":-0.618},{"p":"e","s":"−2","x":-0.0040,"y":-0.57},{"p":"e","s":"−2","x":-0.0032,"y":-0.525},{"p":"e","s":"−2","x":-0.0022,"y":-0.483},{"p":"e","s":"−2","x":-0.0012,"y":-0.45},{"p":"e","s":"−2","x":0.0001,"y":-0.425},{"p":"e","s":"−2","x":0.0016,"y":-0.40},{"p":"e","s":"−2","x":0.0035,"y":-0.368},{"p":"e","s":"−2","x":0.0057,"y":-0.338},{"p":"e","s":"−2","x":0.0083,"y":-0.32},{"p":"e","s":"−2","x":0.0116,"y":-0.288},{"p":"e","s":"−2","x":0.0153,"y":-0.255},{"p":"e","s":"−2","x":0.0197,"y":-0.23},{"p":"e","s":"−2","x":0.0250,"y":-0.208},{"p":"e","s":"−2","x":0.0312,"y":-0.183},{"p":"e","s":"−2","x":0.0386,"y":-0.155},{"p":"e","s":"−2","x":0.0472,"y":-0.118},{"p":"e","s":"−2","x":0.0575,"y":-0.083},{"p":"e","s":"−2","x":0.0697,"y":-0.045},{"p":"e","s":"−2","x":0.0843,"y":-0.005},{"p":"e","s":"−2","x":0.0998,"y":0.038}
  ]},
  "vconcat": [
    {
      "width": 1300, "height": 1110,
      "title": {"text": "(a) Circle"},
      "transform": [{"filter": "datum.p == 'a'"}],
      "encoding": {
        "x": {"field": "x", "type": "quantitative", "scale": {"domain": [-0.015, 0.1], "nice": false, "zero": false},
          "axis": {"title": "无量纲轴向弦长", "titleFont": "Noto Sans CJK SC", "titleFontSize": 64, "titlePadding": 20, "labelPadding": 33,
            "values": [-0.01, 0, 0.01, 0.02, 0.03, 0.04, 0.05, 0.06, 0.07, 0.08, 0.09, 0.1],
            "labelExpr": "datum.value == 0 ? '0' : (round(datum.value * 100) % 2 != 0 ? '' : format(datum.value, '.2f'))",
            "tickSize": {"condition": {"test": "round(datum.value * 100) % 2 != 0", "value": -8}, "value": -15}}},
        "y": {"field": "y", "type": "quantitative", "scale": {"domain": [-1, 2], "nice": false, "zero": false},
          "axis": {"title": "−Cₚ", "titleFontSize": 66, "titleFontStyle": "italic", "titlePadding": 20, "labelPadding": 25,
            "values": [-1, -0.875, -0.75, -0.625, -0.5, -0.375, -0.25, -0.125, 0, 0.125, 0.25, 0.375, 0.5, 0.625, 0.75, 0.875, 1, 1.125, 1.25, 1.375, 1.5, 1.625, 1.75, 1.875, 2],
            "labelExpr": "abs(datum.value * 4 - round(datum.value * 4)) > 0.01 ? '' : (datum.value == 0 ? '0' : (datum.value < 0 ? '−' : '') + format(round(abs(datum.value) * 10) / 10, '.1f'))",
            "tickSize": {"condition": {"test": "abs(datum.value * 4 - round(datum.value * 4)) > 0.01", "value": -8}, "value": -15}}}
      },
      "layer": [
        {"transform": [{"filter": "datum.s == '+6'"}], "mark": {"type": "line", "color": "#000000", "strokeWidth": 6, "clip": true}, "encoding": {"order": {"value": null}}},
        {"transform": [{"filter": "datum.s == '+2'"}], "mark": {"type": "line", "color": "#ff0000", "strokeWidth": 6, "clip": true}, "encoding": {"order": {"value": null}}},
        {"transform": [{"filter": "datum.s == '0'"}], "mark": {"type": "line", "color": "#0000ff", "strokeWidth": 6, "clip": true}, "encoding": {"order": {"value": null}}},
        {"transform": [{"filter": "datum.s == '−6'"}], "mark": {"type": "line", "color": "#800080", "strokeWidth": 6, "clip": true}, "encoding": {"order": {"value": null}}},
        {"transform": [{"filter": "datum.s == '−2'"}], "mark": {"type": "line", "color": "#008000", "strokeWidth": 6, "clip": true}, "encoding": {"order": {"value": null}}},
        {"mark": {"type": "point", "filled": true, "size": 1100, "opacity": 1, "clip": true},
         "encoding": {
           "color": {"field": "s", "type": "nominal", "scale": {"domain": ["+6", "+2", "0", "−6", "−2"], "range": ["#000000", "#ff0000", "#0000ff", "#800080", "#008000"]},
             "legend": {"title": null, "labelExpr": "'Circle, ξ=' + datum.label", "encode": {"symbols": {"update": {"stroke": {"signal": "datum.value == '+6' ? '#000000' : datum.value == '+2' ? '#ff0000' : datum.value == '0' ? '#0000ff' : datum.value == '−6' ? '#800080' : '#008000'"}, "strokeWidth": {"value": 5}, "size": {"value": 1100}, "opacity": {"value": 1}}}}}},
           "shape": {"field": "s", "type": "nominal", "scale": {"domain": ["+6", "+2", "0", "−6", "−2"], "range": ["M-3.6,0H3.6M-0.95,-0.95H0.95V0.95H-0.95Z", "M-3.6,0H3.6M1,0A1,1,0,1,1,-1,0A1,1,0,1,1,1,0Z", "M-3.6,0H3.6M0,-1.05L1.05,0.8H-1.05Z", "M-3.6,0H3.6M0,1.05L1.05,-0.8H-1.05Z", "M-3.6,0H3.6M0,-1.15L1.15,0L0,1.15L-1.15,0Z"]},
             "legend": {"title": null, "labelExpr": "'Circle, ξ=' + datum.label", "encode": {"symbols": {"update": {"stroke": {"signal": "datum.value == '+6' ? '#000000' : datum.value == '+2' ? '#ff0000' : datum.value == '0' ? '#0000ff' : datum.value == '−6' ? '#800080' : '#008000'"}, "strokeWidth": {"value": 5}, "size": {"value": 1100}, "opacity": {"value": 1}}}}}}
         }}
      ]
    },
    {
      "width": 1300, "height": 1110,
      "title": {"text": "(b) Ellipse 1.5"},
      "transform": [{"filter": "datum.p == 'b'"}],
      "encoding": {
        "x": {"field": "x", "type": "quantitative", "scale": {"domain": [-0.015, 0.1], "nice": false, "zero": false},
          "axis": {"title": "无量纲轴向弦长", "titleFont": "Noto Sans CJK SC", "titleFontSize": 64, "titlePadding": 20, "labelPadding": 33,
            "values": [-0.01, 0, 0.01, 0.02, 0.03, 0.04, 0.05, 0.06, 0.07, 0.08, 0.09, 0.1],
            "labelExpr": "datum.value == 0 ? '0' : (round(datum.value * 100) % 2 != 0 ? '' : format(datum.value, '.2f'))",
            "tickSize": {"condition": {"test": "round(datum.value * 100) % 2 != 0", "value": -8}, "value": -15}}},
        "y": {"field": "y", "type": "quantitative", "scale": {"domain": [-1, 2], "nice": false, "zero": false},
          "axis": {"title": "−Cₚ", "titleFontSize": 66, "titleFontStyle": "italic", "titlePadding": 20, "labelPadding": 25,
            "values": [-1, -0.875, -0.75, -0.625, -0.5, -0.375, -0.25, -0.125, 0, 0.125, 0.25, 0.375, 0.5, 0.625, 0.75, 0.875, 1, 1.125, 1.25, 1.375, 1.5, 1.625, 1.75, 1.875, 2],
            "labelExpr": "abs(datum.value * 4 - round(datum.value * 4)) > 0.01 ? '' : (datum.value == 0 ? '0' : (datum.value < 0 ? '−' : '') + format(round(abs(datum.value) * 10) / 10, '.1f'))",
            "tickSize": {"condition": {"test": "abs(datum.value * 4 - round(datum.value * 4)) > 0.01", "value": -8}, "value": -15}}}
      },
      "layer": [
        {"transform": [{"filter": "datum.s == '+6'"}], "mark": {"type": "line", "color": "#000000", "strokeWidth": 6, "clip": true}, "encoding": {"order": {"value": null}}},
        {"transform": [{"filter": "datum.s == '+2'"}], "mark": {"type": "line", "color": "#ff0000", "strokeWidth": 6, "clip": true}, "encoding": {"order": {"value": null}}},
        {"transform": [{"filter": "datum.s == '0'"}], "mark": {"type": "line", "color": "#0000ff", "strokeWidth": 6, "clip": true}, "encoding": {"order": {"value": null}}},
        {"transform": [{"filter": "datum.s == '−6'"}], "mark": {"type": "line", "color": "#800080", "strokeWidth": 6, "clip": true}, "encoding": {"order": {"value": null}}},
        {"transform": [{"filter": "datum.s == '−2'"}], "mark": {"type": "line", "color": "#008000", "strokeWidth": 6, "clip": true}, "encoding": {"order": {"value": null}}},
        {"mark": {"type": "point", "filled": true, "size": 1100, "opacity": 1, "clip": true},
         "encoding": {
           "color": {"field": "s", "type": "nominal", "scale": {"domain": ["+6", "+2", "0", "−6", "−2"], "range": ["#000000", "#ff0000", "#0000ff", "#800080", "#008000"]},
             "legend": {"title": null, "labelExpr": "'Ellipse 1.5, ξ=' + datum.label", "encode": {"symbols": {"update": {"stroke": {"signal": "datum.value == '+6' ? '#000000' : datum.value == '+2' ? '#ff0000' : datum.value == '0' ? '#0000ff' : datum.value == '−6' ? '#800080' : '#008000'"}, "strokeWidth": {"value": 5}, "size": {"value": 1100}, "opacity": {"value": 1}}}}}},
           "shape": {"field": "s", "type": "nominal", "scale": {"domain": ["+6", "+2", "0", "−6", "−2"], "range": ["M-3.6,0H3.6M-0.95,-0.95H0.95V0.95H-0.95Z", "M-3.6,0H3.6M1,0A1,1,0,1,1,-1,0A1,1,0,1,1,1,0Z", "M-3.6,0H3.6M0,-1.05L1.05,0.8H-1.05Z", "M-3.6,0H3.6M0,1.05L1.05,-0.8H-1.05Z", "M-3.6,0H3.6M0,-1.15L1.15,0L0,1.15L-1.15,0Z"]},
             "legend": {"title": null, "labelExpr": "'Ellipse 1.5, ξ=' + datum.label", "encode": {"symbols": {"update": {"stroke": {"signal": "datum.value == '+6' ? '#000000' : datum.value == '+2' ? '#ff0000' : datum.value == '0' ? '#0000ff' : datum.value == '−6' ? '#800080' : '#008000'"}, "strokeWidth": {"value": 5}, "size": {"value": 1100}, "opacity": {"value": 1}}}}}}
         }}
      ]
    },
    {
      "width": 1300, "height": 1110,
      "title": {"text": "(c) Ellipse 2"},
      "transform": [{"filter": "datum.p == 'c'"}],
      "encoding": {
        "x": {"field": "x", "type": "quantitative", "scale": {"domain": [-0.015, 0.1], "nice": false, "zero": false},
          "axis": {"title": "无量纲轴向弦长", "titleFont": "Noto Sans CJK SC", "titleFontSize": 64, "titlePadding": 20, "labelPadding": 33,
            "values": [-0.01, 0, 0.01, 0.02, 0.03, 0.04, 0.05, 0.06, 0.07, 0.08, 0.09, 0.1],
            "labelExpr": "datum.value == 0 ? '0' : (round(datum.value * 100) % 2 != 0 ? '' : format(datum.value, '.2f'))",
            "tickSize": {"condition": {"test": "round(datum.value * 100) % 2 != 0", "value": -8}, "value": -15}}},
        "y": {"field": "y", "type": "quantitative", "scale": {"domain": [-1, 2], "nice": false, "zero": false},
          "axis": {"title": "−Cₚ", "titleFontSize": 66, "titleFontStyle": "italic", "titlePadding": 20, "labelPadding": 25,
            "values": [-1, -0.875, -0.75, -0.625, -0.5, -0.375, -0.25, -0.125, 0, 0.125, 0.25, 0.375, 0.5, 0.625, 0.75, 0.875, 1, 1.125, 1.25, 1.375, 1.5, 1.625, 1.75, 1.875, 2],
            "labelExpr": "abs(datum.value * 4 - round(datum.value * 4)) > 0.01 ? '' : (datum.value == 0 ? '0' : (datum.value < 0 ? '−' : '') + format(round(abs(datum.value) * 10) / 10, '.1f'))",
            "tickSize": {"condition": {"test": "abs(datum.value * 4 - round(datum.value * 4)) > 0.01", "value": -8}, "value": -15}}}
      },
      "layer": [
        {"transform": [{"filter": "datum.s == '+6'"}], "mark": {"type": "line", "color": "#000000", "strokeWidth": 6, "clip": true}, "encoding": {"order": {"value": null}}},
        {"transform": [{"filter": "datum.s == '+2'"}], "mark": {"type": "line", "color": "#ff0000", "strokeWidth": 6, "clip": true}, "encoding": {"order": {"value": null}}},
        {"transform": [{"filter": "datum.s == '0'"}], "mark": {"type": "line", "color": "#0000ff", "strokeWidth": 6, "clip": true}, "encoding": {"order": {"value": null}}},
        {"transform": [{"filter": "datum.s == '−6'"}], "mark": {"type": "line", "color": "#800080", "strokeWidth": 6, "clip": true}, "encoding": {"order": {"value": null}}},
        {"transform": [{"filter": "datum.s == '−2'"}], "mark": {"type": "line", "color": "#008000", "strokeWidth": 6, "clip": true}, "encoding": {"order": {"value": null}}},
        {"mark": {"type": "point", "filled": true, "size": 1100, "opacity": 1, "clip": true},
         "encoding": {
           "color": {"field": "s", "type": "nominal", "scale": {"domain": ["+6", "+2", "0", "−6", "−2"], "range": ["#000000", "#ff0000", "#0000ff", "#800080", "#008000"]},
             "legend": {"title": null, "labelExpr": "'Ellipse 2, ξ=' + datum.label", "encode": {"symbols": {"update": {"stroke": {"signal": "datum.value == '+6' ? '#000000' : datum.value == '+2' ? '#ff0000' : datum.value == '0' ? '#0000ff' : datum.value == '−6' ? '#800080' : '#008000'"}, "strokeWidth": {"value": 5}, "size": {"value": 1100}, "opacity": {"value": 1}}}}}},
           "shape": {"field": "s", "type": "nominal", "scale": {"domain": ["+6", "+2", "0", "−6", "−2"], "range": ["M-3.6,0H3.6M-0.95,-0.95H0.95V0.95H-0.95Z", "M-3.6,0H3.6M1,0A1,1,0,1,1,-1,0A1,1,0,1,1,1,0Z", "M-3.6,0H3.6M0,-1.05L1.05,0.8H-1.05Z", "M-3.6,0H3.6M0,1.05L1.05,-0.8H-1.05Z", "M-3.6,0H3.6M0,-1.15L1.15,0L0,1.15L-1.15,0Z"]},
             "legend": {"title": null, "labelExpr": "'Ellipse 2, ξ=' + datum.label", "encode": {"symbols": {"update": {"stroke": {"signal": "datum.value == '+6' ? '#000000' : datum.value == '+2' ? '#ff0000' : datum.value == '0' ? '#0000ff' : datum.value == '−6' ? '#800080' : '#008000'"}, "strokeWidth": {"value": 5}, "size": {"value": 1100}, "opacity": {"value": 1}}}}}}
         }}
      ]
    },
    {
      "width": 1300, "height": 1110,
      "title": {"text": "(d) Ellipse 3"},
      "transform": [{"filter": "datum.p == 'd'"}],
      "encoding": {
        "x": {"field": "x", "type": "quantitative", "scale": {"domain": [-0.015, 0.1], "nice": false, "zero": false},
          "axis": {"title": "无量纲轴向弦长", "titleFont": "Noto Sans CJK SC", "titleFontSize": 64, "titlePadding": 20, "labelPadding": 33,
            "values": [-0.01, 0, 0.01, 0.02, 0.03, 0.04, 0.05, 0.06, 0.07, 0.08, 0.09, 0.1],
            "labelExpr": "datum.value == 0 ? '0' : (round(datum.value * 100) % 2 != 0 ? '' : format(datum.value, '.2f'))",
            "tickSize": {"condition": {"test": "round(datum.value * 100) % 2 != 0", "value": -8}, "value": -15}}},
        "y": {"field": "y", "type": "quantitative", "scale": {"domain": [-1, 2], "nice": false, "zero": false},
          "axis": {"title": "−Cₚ", "titleFontSize": 66, "titleFontStyle": "italic", "titlePadding": 20, "labelPadding": 25,
            "values": [-1, -0.875, -0.75, -0.625, -0.5, -0.375, -0.25, -0.125, 0, 0.125, 0.25, 0.375, 0.5, 0.625, 0.75, 0.875, 1, 1.125, 1.25, 1.375, 1.5, 1.625, 1.75, 1.875, 2],
            "labelExpr": "abs(datum.value * 4 - round(datum.value * 4)) > 0.01 ? '' : (datum.value == 0 ? '0' : (datum.value < 0 ? '−' : '') + format(round(abs(datum.value) * 10) / 10, '.1f'))",
            "tickSize": {"condition": {"test": "abs(datum.value * 4 - round(datum.value * 4)) > 0.01", "value": -8}, "value": -15}}}
      },
      "layer": [
        {"transform": [{"filter": "datum.s == '+6'"}], "mark": {"type": "line", "color": "#000000", "strokeWidth": 6, "clip": true}, "encoding": {"order": {"value": null}}},
        {"transform": [{"filter": "datum.s == '+2'"}], "mark": {"type": "line", "color": "#ff0000", "strokeWidth": 6, "clip": true}, "encoding": {"order": {"value": null}}},
        {"transform": [{"filter": "datum.s == '0'"}], "mark": {"type": "line", "color": "#0000ff", "strokeWidth": 6, "clip": true}, "encoding": {"order": {"value": null}}},
        {"transform": [{"filter": "datum.s == '−6'"}], "mark": {"type": "line", "color": "#800080", "strokeWidth": 6, "clip": true}, "encoding": {"order": {"value": null}}},
        {"transform": [{"filter": "datum.s == '−2'"}], "mark": {"type": "line", "color": "#008000", "strokeWidth": 6, "clip": true}, "encoding": {"order": {"value": null}}},
        {"mark": {"type": "point", "filled": true, "size": 1100, "opacity": 1, "clip": true},
         "encoding": {
           "color": {"field": "s", "type": "nominal", "scale": {"domain": ["+6", "+2", "0", "−6", "−2"], "range": ["#000000", "#ff0000", "#0000ff", "#800080", "#008000"]},
             "legend": {"title": null, "labelExpr": "'Ellipse 3, ξ=' + datum.label", "encode": {"symbols": {"update": {"stroke": {"signal": "datum.value == '+6' ? '#000000' : datum.value == '+2' ? '#ff0000' : datum.value == '0' ? '#0000ff' : datum.value == '−6' ? '#800080' : '#008000'"}, "strokeWidth": {"value": 5}, "size": {"value": 1100}, "opacity": {"value": 1}}}}}},
           "shape": {"field": "s", "type": "nominal", "scale": {"domain": ["+6", "+2", "0", "−6", "−2"], "range": ["M-3.6,0H3.6M-0.95,-0.95H0.95V0.95H-0.95Z", "M-3.6,0H3.6M1,0A1,1,0,1,1,-1,0A1,1,0,1,1,1,0Z", "M-3.6,0H3.6M0,-1.05L1.05,0.8H-1.05Z", "M-3.6,0H3.6M0,1.05L1.05,-0.8H-1.05Z", "M-3.6,0H3.6M0,-1.15L1.15,0L0,1.15L-1.15,0Z"]},
             "legend": {"title": null, "labelExpr": "'Ellipse 3, ξ=' + datum.label", "encode": {"symbols": {"update": {"stroke": {"signal": "datum.value == '+6' ? '#000000' : datum.value == '+2' ? '#ff0000' : datum.value == '0' ? '#0000ff' : datum.value == '−6' ? '#800080' : '#008000'"}, "strokeWidth": {"value": 5}, "size": {"value": 1100}, "opacity": {"value": 1}}}}}}
         }}
      ]
    },
    {
      "width": 1300, "height": 1110,
      "title": {"text": "(e) Continuous curvature"},
      "transform": [{"filter": "datum.p == 'e'"}],
      "encoding": {
        "x": {"field": "x", "type": "quantitative", "scale": {"domain": [-0.015, 0.1], "nice": false, "zero": false},
          "axis": {"title": "无量纲轴向弦长", "titleFont": "Noto Sans CJK SC", "titleFontSize": 64, "titlePadding": 20, "labelPadding": 33,
            "values": [-0.01, 0, 0.01, 0.02, 0.03, 0.04, 0.05, 0.06, 0.07, 0.08, 0.09, 0.1],
            "labelExpr": "datum.value == 0 ? '0' : (round(datum.value * 100) % 2 != 0 ? '' : format(datum.value, '.2f'))",
            "tickSize": {"condition": {"test": "round(datum.value * 100) % 2 != 0", "value": -8}, "value": -15}}},
        "y": {"field": "y", "type": "quantitative", "scale": {"domain": [-1, 2], "nice": false, "zero": false},
          "axis": {"title": "−Cₚ", "titleFontSize": 66, "titleFontStyle": "italic", "titlePadding": 20, "labelPadding": 25,
            "values": [-1, -0.875, -0.75, -0.625, -0.5, -0.375, -0.25, -0.125, 0, 0.125, 0.25, 0.375, 0.5, 0.625, 0.75, 0.875, 1, 1.125, 1.25, 1.375, 1.5, 1.625, 1.75, 1.875, 2],
            "labelExpr": "abs(datum.value * 4 - round(datum.value * 4)) > 0.01 ? '' : (datum.value == 0 ? '0' : (datum.value < 0 ? '−' : '') + format(round(abs(datum.value) * 10) / 10, '.1f'))",
            "tickSize": {"condition": {"test": "abs(datum.value * 4 - round(datum.value * 4)) > 0.01", "value": -8}, "value": -15}}}
      },
      "layer": [
        {"transform": [{"filter": "datum.s == '+6'"}], "mark": {"type": "line", "color": "#000000", "strokeWidth": 6, "clip": true}, "encoding": {"order": {"value": null}}},
        {"transform": [{"filter": "datum.s == '+2'"}], "mark": {"type": "line", "color": "#ff0000", "strokeWidth": 6, "clip": true}, "encoding": {"order": {"value": null}}},
        {"transform": [{"filter": "datum.s == '0'"}], "mark": {"type": "line", "color": "#0000ff", "strokeWidth": 6, "clip": true}, "encoding": {"order": {"value": null}}},
        {"transform": [{"filter": "datum.s == '−6'"}], "mark": {"type": "line", "color": "#800080", "strokeWidth": 6, "clip": true}, "encoding": {"order": {"value": null}}},
        {"transform": [{"filter": "datum.s == '−2'"}], "mark": {"type": "line", "color": "#008000", "strokeWidth": 6, "clip": true}, "encoding": {"order": {"value": null}}},
        {"mark": {"type": "point", "filled": true, "size": 1100, "opacity": 1, "clip": true},
         "encoding": {
           "color": {"field": "s", "type": "nominal", "scale": {"domain": ["+6", "+2", "0", "−6", "−2"], "range": ["#000000", "#ff0000", "#0000ff", "#800080", "#008000"]},
             "legend": {"title": null, "labelExpr": "'Continuous curvature, ξ=' + datum.label", "encode": {"symbols": {"update": {"stroke": {"signal": "datum.value == '+6' ? '#000000' : datum.value == '+2' ? '#ff0000' : datum.value == '0' ? '#0000ff' : datum.value == '−6' ? '#800080' : '#008000'"}, "strokeWidth": {"value": 5}, "size": {"value": 1100}, "opacity": {"value": 1}}}}}},
           "shape": {"field": "s", "type": "nominal", "scale": {"domain": ["+6", "+2", "0", "−6", "−2"], "range": ["M-3.6,0H3.6M-0.95,-0.95H0.95V0.95H-0.95Z", "M-3.6,0H3.6M1,0A1,1,0,1,1,-1,0A1,1,0,1,1,1,0Z", "M-3.6,0H3.6M0,-1.05L1.05,0.8H-1.05Z", "M-3.6,0H3.6M0,1.05L1.05,-0.8H-1.05Z", "M-3.6,0H3.6M0,-1.15L1.15,0L0,1.15L-1.15,0Z"]},
             "legend": {"title": null, "labelExpr": "'Continuous curvature, ξ=' + datum.label", "encode": {"symbols": {"update": {"stroke": {"signal": "datum.value == '+6' ? '#000000' : datum.value == '+2' ? '#ff0000' : datum.value == '0' ? '#0000ff' : datum.value == '−6' ? '#800080' : '#008000'"}, "strokeWidth": {"value": 5}, "size": {"value": 1100}, "opacity": {"value": 1}}}}}}
         }}
      ]
    }
  ]
}
